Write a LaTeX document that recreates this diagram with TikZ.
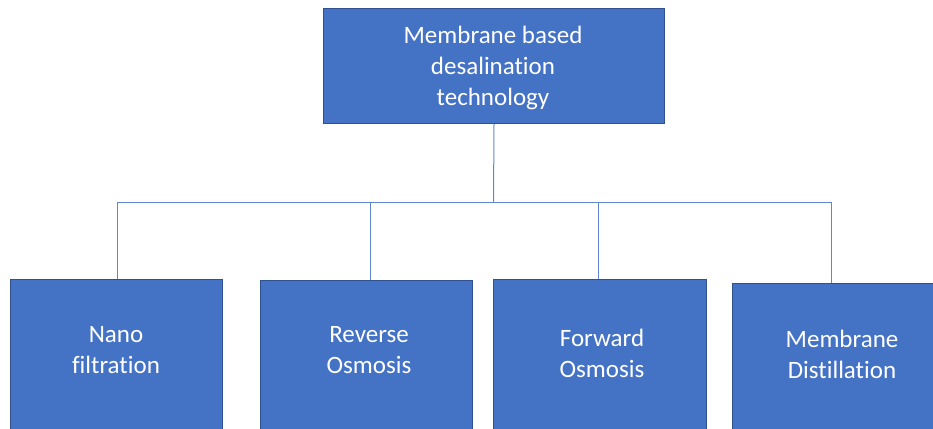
\documentclass[tikz,border=0pt]{standalone}
\usepackage{fontspec}
\setmainfont[Ligatures=CommonOff]{Carlito}
\definecolor{ofblue}{HTML}{4472C4}
\definecolor{ofedge}{HTML}{2F528F}
\begin{document}
\begin{tikzpicture}[x=1pt,y=-1pt,
  box/.style={draw=ofedge, line width=1pt, fill=ofblue, inner sep=0pt, anchor=north west},
  lbl/.style={text=white, font=\fontsize{25}{31}\selectfont, align=center, inner sep=0pt},
  conn/.style={draw=ofblue!85, line width=1pt}]
\useasboundingbox (0,0) rectangle (933,428);
\clip (0,0) rectangle (933,428);
% boxes
\node[box, minimum width=341pt, minimum height=115pt] (top) at (323,8) {};
\node[box, minimum width=212pt, minimum height=200pt] (nano) at (10,279) {};
\node[box, minimum width=212pt, minimum height=200pt] (ro) at (260,280) {};
\node[box, minimum width=213pt, minimum height=200pt] (fo) at (493,279) {};
\node[box, minimum width=230pt, minimum height=200pt] (md) at (732,283) {};
% labels
\node[lbl] (toptext) at (493,68) {Membrane based\\desalination\\technology};
\node[lbl] (nanotext) at (116,350) {Nano\\filtration};
\node[lbl] (rotext) at (369,350) {Reverse\\Osmosis};
\node[lbl] (fotext) at (602,353) {Forward\\Osmosis};
\node[lbl] (mdtext) at (842,354) {Membrane\\Distillation};
% connectors
\coordinate (bus) at (493.5,202);
\coordinate (bn) at (117,202);
\coordinate (br) at (370,202);
\coordinate (bf) at (598,202);
\coordinate (bm) at (831,202);
\draw[conn] (top.south) -- (bus);
\draw[conn] (bn) -- (bm);
\draw[conn] (bn) -- (bn |- nano.north);
\draw[conn] (br) -- (br |- ro.north);
\draw[conn] (bf) -- (bf |- fo.north);
\draw[conn] (bm) -- (bm |- md.north);
\end{tikzpicture}
\end{document}
